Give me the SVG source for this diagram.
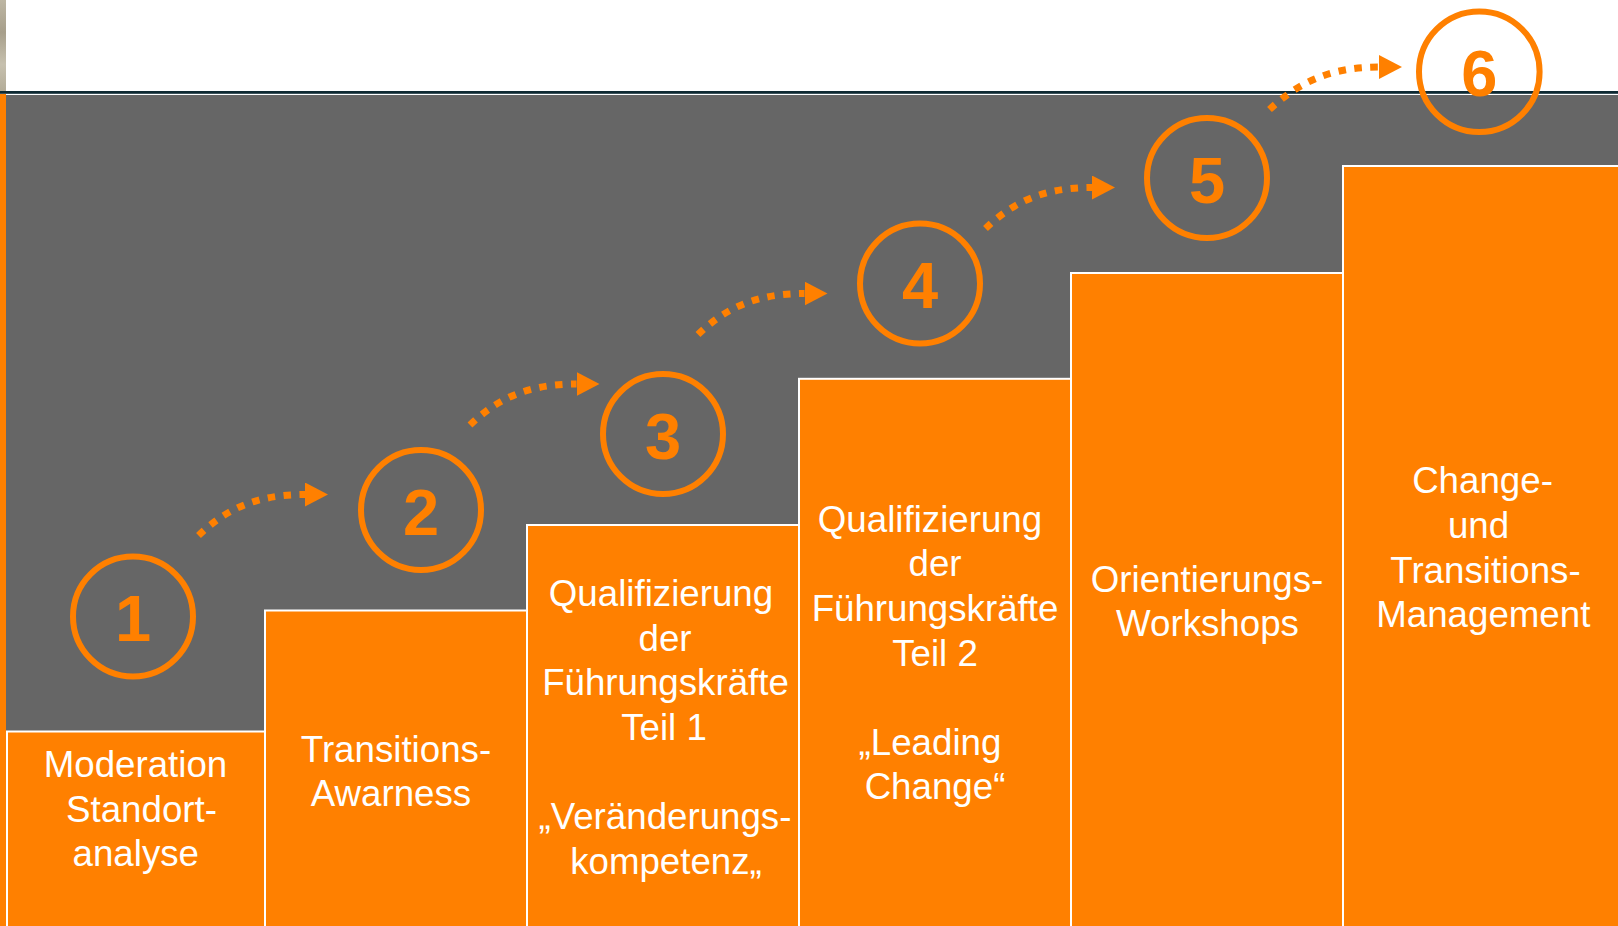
<svg xmlns="http://www.w3.org/2000/svg" width="1618" height="926" viewBox="0 0 1618 926">
  <style>
    .step { fill: #FF8000; stroke: #FFFFFF; stroke-width: 2; }
    .label { font-family: "Liberation Sans", Arial, sans-serif; font-size: 36.7px; fill: #FFFFFF; text-anchor: middle; }
    .ring { fill: none; stroke: #FF8000; stroke-width: 6; }
    .num { font-family: "Liberation Sans", Arial, sans-serif; font-weight: bold; font-size: 65px; fill: #FF8000; text-anchor: middle; }
    .flow { fill: none; stroke: #FF8000; stroke-width: 7; stroke-dasharray: 7.5 8.5; marker-end: url(#head); }
  </style>
  <defs>
    <linearGradient id="stone" x1="0" y1="0" x2="0" y2="1">
      <stop offset="0" stop-color="#BDB6A3"/>
      <stop offset="0.35" stop-color="#A79F8B"/>
      <stop offset="0.7" stop-color="#C6C0AE"/>
      <stop offset="1" stop-color="#B2AB97"/>
    </linearGradient>
    <marker id="head" markerUnits="userSpaceOnUse" viewBox="0 -12 23 24" refX="0" refY="0" markerWidth="23" markerHeight="24" orient="auto">
      <path d="M0,-12 L23,0 L0,12 Z" fill="#FF8000"/>
    </marker>
  </defs>

  <!-- page background -->
  <rect x="0" y="0" width="1618" height="926" fill="#FFFFFF"/>
  <rect x="0" y="0" width="6" height="92" fill="url(#stone)"/>
  <rect x="0" y="94" width="6" height="832" fill="#FF8000"/>
  <rect x="6" y="95" width="1612" height="831" fill="#666666"/>
  <rect x="0" y="91" width="1618" height="2.8" fill="#0E2A33"/>

  <!-- staircase steps -->
  <g id="step1">
    <rect class="step" x="7" y="731.5" width="258" height="200"/>
    <text class="label"><tspan x="135.5" y="776.7">Moderation</tspan><tspan x="141.5" y="821.5">Standort-</tspan><tspan x="135.8" y="866">analyse</tspan></text>
  </g>
  <g id="step2">
    <rect class="step" x="265" y="610.5" width="262" height="320"/>
    <text class="label"><tspan x="396" y="761.7">Transitions-</tspan><tspan x="391" y="806.3">Awarness</tspan></text>
  </g>
  <g id="step3">
    <rect class="step" x="527" y="525" width="272" height="410"/>
    <text class="label"><tspan x="661" y="606">Qualifizierung</tspan><tspan x="665" y="650.6">der</tspan><tspan x="665.5" y="695.2">Führungskräfte</tspan><tspan x="664" y="739.8">Teil 1</tspan><tspan x="665" y="829">„Veränderungs-</tspan><tspan x="666" y="873.6">kompetenz„</tspan></text>
  </g>
  <g id="step4">
    <rect class="step" x="799" y="378.8" width="272" height="560"/>
    <text class="label"><tspan x="930" y="531.7">Qualifizierung</tspan><tspan x="935" y="576.3">der</tspan><tspan x="935" y="620.9">Führungskräfte</tspan><tspan x="935" y="665.5">Teil 2</tspan><tspan x="930" y="754.7">„Leading</tspan><tspan x="935" y="799.3">Change“</tspan></text>
  </g>
  <g id="step5">
    <rect class="step" x="1071" y="273" width="272" height="660"/>
    <text class="label"><tspan x="1207" y="591.8">Orientierungs-</tspan><tspan x="1207.5" y="636.4">Workshops</tspan></text>
  </g>
  <g id="step6">
    <rect class="step" x="1343" y="166" width="290" height="770"/>
    <text class="label"><tspan x="1482.5" y="493.3">Change-</tspan><tspan x="1478.5" y="538.3">und</tspan><tspan x="1485.5" y="582.7">Transitions-</tspan><tspan x="1483.3" y="627.3">Management</tspan></text>
  </g>

  <!-- numbered markers -->
  <g id="badge1">
    <circle class="ring" cx="133" cy="616.5" r="60"/>
    <text class="num" x="133" y="641">1</text>
  </g>
  <g id="badge2">
    <circle class="ring" cx="421" cy="510" r="60"/>
    <text class="num" x="421" y="534.5">2</text>
  </g>
  <g id="badge3">
    <circle class="ring" cx="663" cy="434" r="60"/>
    <text class="num" x="663" y="458.5">3</text>
  </g>
  <g id="badge4">
    <circle class="ring" cx="920" cy="283.5" r="60"/>
    <text class="num" x="920" y="308.3">4</text>
  </g>
  <g id="badge5">
    <circle class="ring" cx="1207" cy="178" r="60"/>
    <text class="num" x="1207" y="202.5">5</text>
  </g>
  <g id="badge6">
    <circle class="ring" cx="1479.3" cy="71.7" r="60.3"/>
    <text class="num" x="1479.3" y="96.2">6</text>
  </g>

  <!-- dotted connectors between markers -->
  <g id="connectors">
    <path class="flow" d="M198.5,535.5 C224,511 254,494.5 305,494.5"/>
    <path class="flow" d="M470,425 C495.5,400.5 525.5,384 576.5,384"/>
    <path class="flow" d="M698,334.5 C723.5,310 753.5,293.5 804.5,293.5"/>
    <path class="flow" d="M985.5,228.5 C1011,204 1041,187.5 1092,187.5"/>
    <path class="flow" d="M1269.5,109.5 C1296,85 1327,67 1379,67"/>
  </g>
</svg>
